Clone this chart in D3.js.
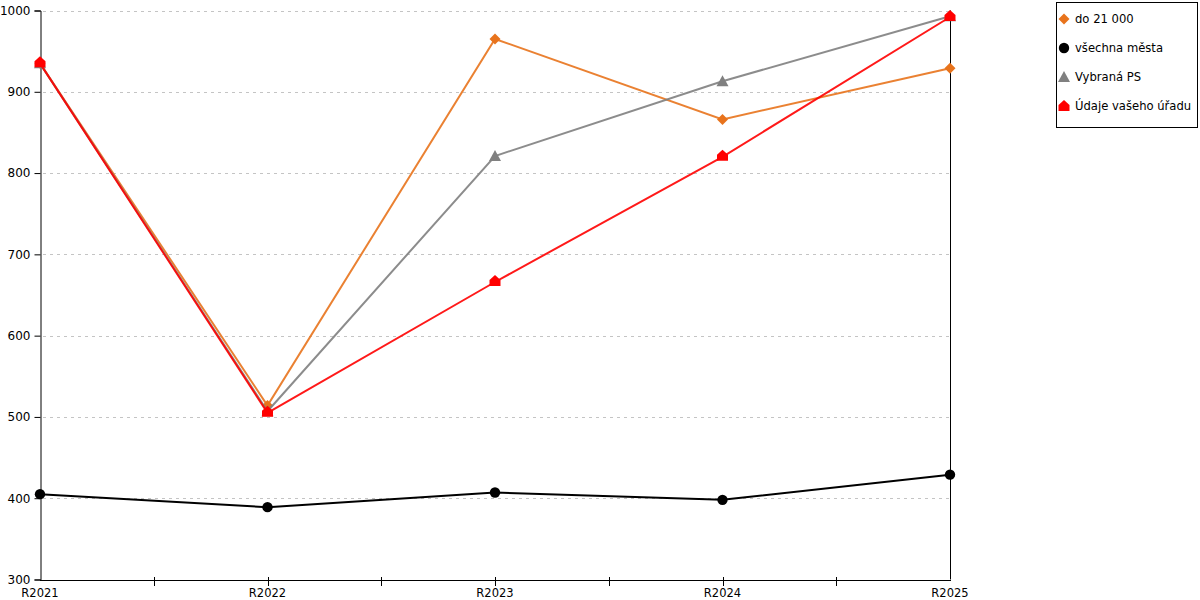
<!DOCTYPE html>
<html><head><meta charset="utf-8">
<script src="https://cdn.jsdelivr.net/npm/d3@7"></script>
<style>
body{margin:0;background:#fff;}
svg{font-family:"DejaVu Sans",sans-serif;}
</style></head>
<body><svg id="c" width="1200" height="600"></svg>
<script>
const categories = ["R2021","R2022","R2023","R2024","R2025"];
const seriesNames = ["do 21 000","všechna města","Vybraná PS","Údaje vašeho úřadu"];
const valsDo21000 = [935, 514, 965, 866, 929];
const valsVsechna = [405, 389, 407, 398, 429];
const valsVybrana = [935, 507, 821, 913, 993];
const valsUrad = [935, 505, 666, 820, 992];
const yTicks = [300,400,500,600,700,800,900,1000];
const colors = ["#E8731C","#000000","#808080","#FF0000"];
const shapes = ["diamond","circle","triangle","house"];

const seriesList = [valsDo21000, valsVsechna, valsVybrana, valsUrad];
const svg = d3.select("#c");
const L = 40, R = 950, T = 10.5, B = 579.5;
const x = d3.scalePoint().domain(categories).range([L, R]);
const y = d3.scaleLinear().domain([300, 1000]).range([B, T]);

// grid
svg.append("g").selectAll("line").data(yTicks.filter(d => d > 300)).join("line")
  .attr("x1", L + 3).attr("x2", R).attr("y1", d => Math.round(y(d)) + 0.5).attr("y2", d => Math.round(y(d)) + 0.5)
  .attr("stroke", "#c4c4c4").attr("stroke-dasharray", "3,4").attr("stroke-width", 1);

// y axis
const ya = svg.append("g").attr("transform", `translate(${L + 0.5},0)`)
  .call(d3.axisLeft(y).tickValues(yTicks).tickSize(6).tickPadding(4).tickFormat(d3.format("d")));
ya.select(".domain").attr("stroke", "#000");
ya.selectAll("text").attr("font-size", 12).attr("fill", "#000").attr("font-family", "DejaVu Sans");
ya.selectAll("line").attr("stroke", "#000");

// right line
svg.append("line").attr("x1", R + 0.5).attr("x2", R + 0.5).attr("y1", T).attr("y2", B).attr("stroke", "#000");

// x axis
const step = x.step();
const tickPos = [];
for (let i = 0; i < categories.length - 1; i++) { tickPos.push(x(categories[i])); tickPos.push(x(categories[i]) + step / 2); }
const xa = svg.append("g");
xa.append("line").attr("x1", L).attr("x2", R + 1).attr("y1", Math.round(B) + 0.5).attr("y2", Math.round(B) + 0.5).attr("stroke", "#000");
xa.selectAll("line.t").data(tickPos.slice(1)).join("line").attr("class", "t")
  .attr("x1", d => Math.round(d) + 0.5).attr("x2", d => Math.round(d) + 0.5)
  .attr("y1", Math.round(B) - 3).attr("y2", Math.round(B) + 6).attr("stroke", "#000");
xa.selectAll("text").data(categories).join("text")
  .attr("x", d => x(d)).attr("y", 597).attr("text-anchor", "middle")
  .attr("font-size", 11.5).attr("fill", "#000").text(d => d);

function marker(g, shape, color, cx, cy) {
  if (shape === "circle") {
    g.append("circle").attr("cx", cx).attr("cy", cy).attr("r", 5.2).attr("fill", color);
  } else if (shape === "diamond") {
    g.append("path").attr("d", `M${cx},${cy-5.5}L${cx+5.5},${cy}L${cx},${cy+5.5}L${cx-5.5},${cy}Z`).attr("fill", color);
  } else if (shape === "triangle") {
    g.append("path").attr("d", `M${cx},${cy-6}L${cx+6},${cy+5}L${cx-6},${cy+5}Z`).attr("fill", color);
  } else {
    g.append("path").attr("d", `M${cx},${cy-7}L${cx+5.5},${cy-2}L${cx+5.5},${cy+4}L${cx-5.5},${cy+4}L${cx-5.5},${cy-2}Z`).attr("fill", color);
  }
}

const line = d3.line().x((d, i) => x(categories[i])).y(d => y(d));
seriesList.forEach((vals, si) => {
  const g = svg.append("g");
  g.append("path").attr("d", line(vals)).attr("fill", "none").attr("stroke", colors[si])
    .attr("stroke-width", 2).attr("opacity", si === 1 ? 1 : 0.9);
  vals.forEach((v, i) => marker(g, shapes[si], colors[si], x(categories[i]), y(v)));
});

// legend
const lg = svg.append("g");
lg.append("rect").attr("x", 1056.5).attr("y", 2.5).attr("width", 141).attr("height", 125)
  .attr("fill", "#fff").attr("stroke", "#000");
seriesNames.forEach((n, i) => {
  const cy = 19 + i * 29;
  marker(lg, shapes[i], colors[i], 1064, cy + (shapes[i] === "house" ? 1 : 0));
  lg.append("text").attr("x", 1075).attr("y", cy + 4).attr("font-size", 11.6).attr("fill", "#000").text(n);
});
</script></body></html>
